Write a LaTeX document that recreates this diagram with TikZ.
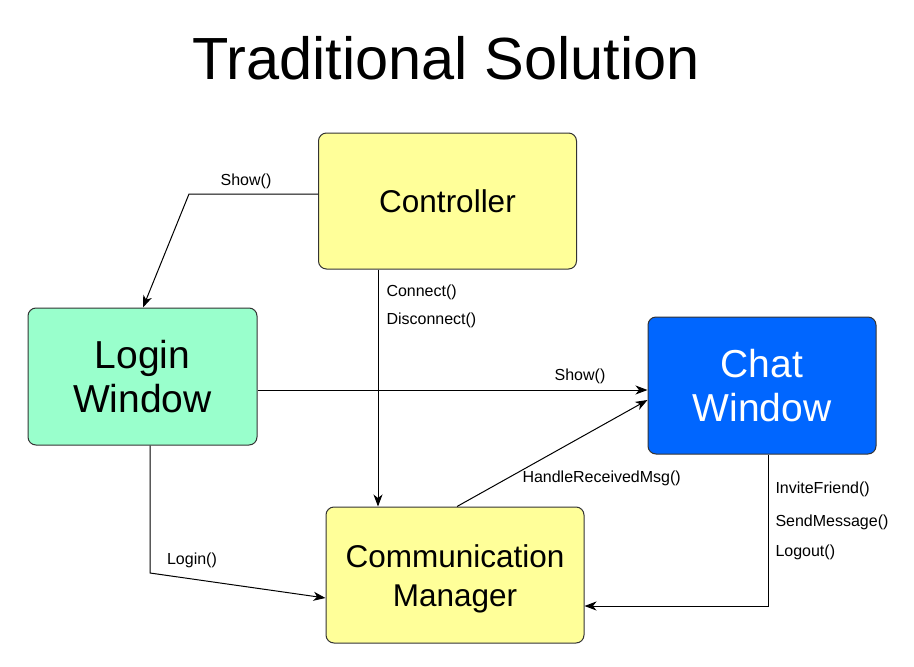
\documentclass[tikz,border=0pt]{standalone}
\usepackage{fontspec}
\setmainfont{Liberation Sans}
\usepackage{tikz}
\usetikzlibrary{arrows.meta}
\definecolor{ctrlyellow}{HTML}{FFFF99}
\definecolor{logingreen}{HTML}{99FFCC}
\definecolor{chatblue}{HTML}{0066FF}

\begin{document}
\begin{tikzpicture}[x=1pt,y=-1pt,line width=1pt,
	>={Stealth[length=12pt,width=9pt,inset=3.5pt]},
	box/.style={draw=black!80,rounded corners=8pt,minimum width=258pt,minimum height=136pt,align=center,inner sep=0pt},
	lbl/.style={font=\fontsize{16}{18}\selectfont,inner sep=0pt}]
			%%Location
			\useasboundingbox (0,0) rectangle (914,667);
			%%Title
			\node (title) at (446,58) {\fontsize{59.5}{62}\selectfont Traditional Solution};
			%%Boxes
			\node[box,fill=ctrlyellow,font=\fontsize{31.5}{36}\selectfont] (ctrl) at (447.5,201) {Controller};
			\node[box,fill=logingreen,minimum width=229pt,minimum height=137pt,font=\fontsize{39}{44}\selectfont] (login) at (142.5,376.5) {Login\\Window};
			\node[box,fill=chatblue,text=white,minimum width=228pt,minimum height=137pt,font=\fontsize{39}{44}\selectfont] (chat) at (762,385.5) {Chat\\Window};
			\node[box,fill=ctrlyellow,font=\fontsize{31.5}{39}\selectfont] (cm) at (455,575) {\rule{0pt}{31pt}Communication\\Manager};
			%%Connectors
			\draw[->] ([yshift=7pt]ctrl.west) -- (189,194) -- (login.north -| 143,0);
			\draw[->] (ctrl.south -| 378,0) -- (cm.north -| 378,0);
			\draw[->] (login.east |- 0,390) -- (chat.west |- 0,390);
			\draw[->] (cm.north -| 457,0) -- (chat.west |- 0,400);
			\draw[->] (login.south -| 150,0) -- (150,573) -- (cm.west |- 0,598);
			\draw[->] (chat.south -| 768,0) -- (768,606) -- (cm.east |- 0,606);
			%%Label
			\node[lbl] (lshow) at (246,181) {Show()};
			\node[lbl,anchor=west] (lconnect) at (386,292) {Connect()};
			\node[lbl,anchor=west] (ldisconnect) at (386,320) {Disconnect()};
			\node[lbl] (lshowchat) at (580,376) {Show()};
			\node[lbl,anchor=west] (lhandle) at (522,478) {HandleReceivedMsg()};
			\node[lbl] (llogin) at (192,560) {Login()};
			\node[lbl,anchor=west] (linvite) at (775,489) {InviteFriend()};
			\node[lbl,anchor=west] (lsend) at (775,522) {SendMessage()};
			\node[lbl,anchor=west] (llogout) at (775,552) {Logout()};
\end{tikzpicture}
\end{document}
